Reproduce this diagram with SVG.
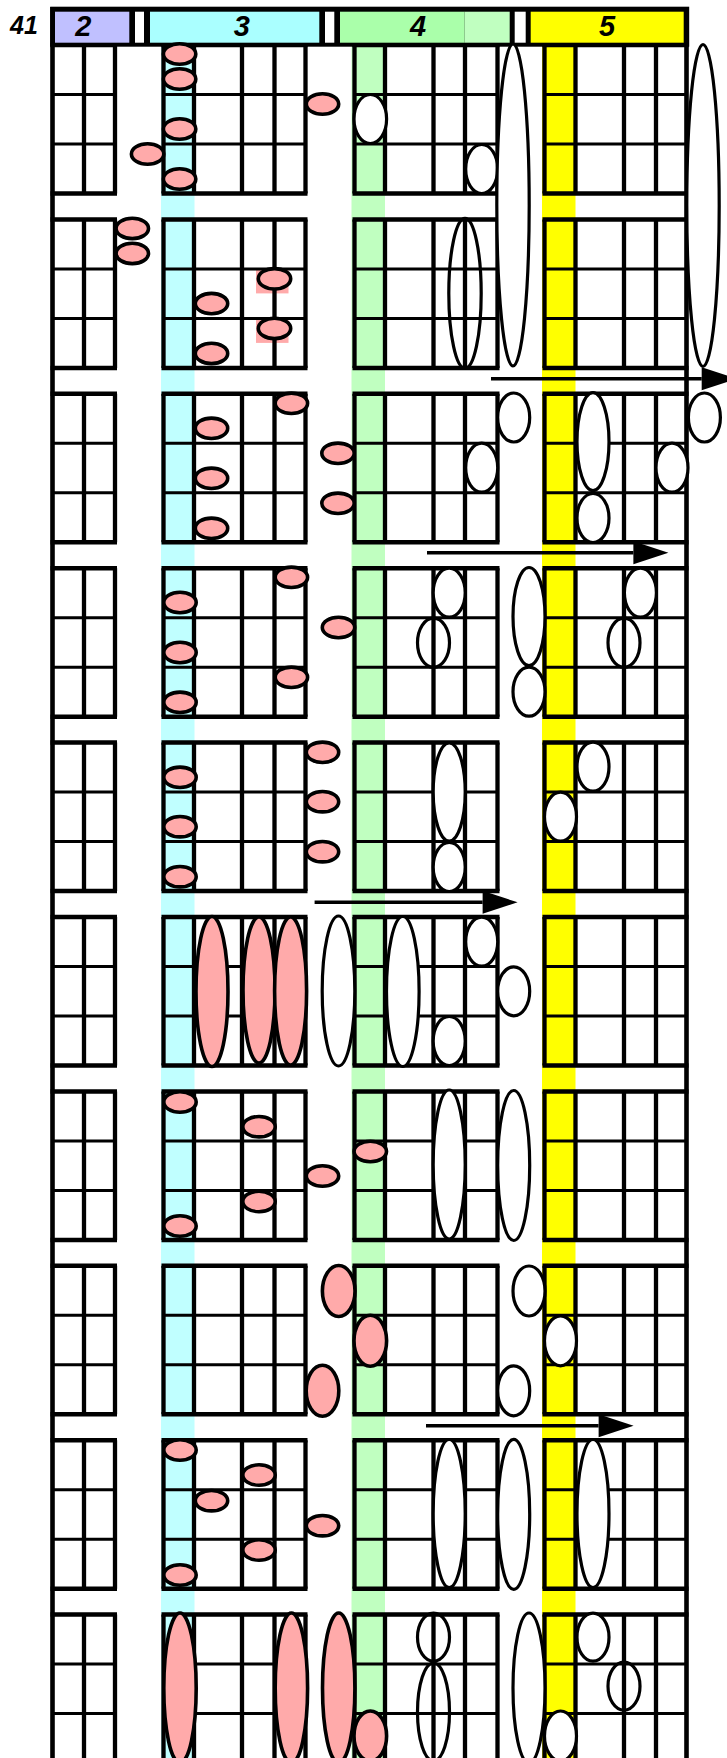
<svg xmlns="http://www.w3.org/2000/svg" width="727" height="1758" viewBox="0 0 727 1758">
<style>
.lbl{font-family:"Liberation Sans",Arial,sans-serif;font-weight:bold;font-style:italic;fill:#000}
.hk{stroke:#000;stroke-width:4.5;fill:none}
.hn{stroke:#000;stroke-width:3;fill:none}
.v{stroke:#000;stroke-width:4.3;fill:none}
.p{fill:#ffaaaa;stroke:#000;stroke-width:3.6}
.w{fill:#fff;stroke:#000;stroke-width:3.2}
.g{fill:none;stroke:#000;stroke-width:3.2}
.arr{stroke:#000;stroke-width:3.6;fill:none;marker-end:url(#ah)}
</style>
<defs>
<g id="grid">
<path class="hk" d="M50.5 0H117M161.5 0H307.5M352.5 0H499.5M542.5 0H688.5M50.5 148.5H117M161.5 148.5H307.5M352.5 148.5H499.5M542.5 148.5H688.5"/>
<path class="hn" d="M52.5 49.5H115M163.5 49.5H305.5M354.5 49.5H497.5M544.5 49.5H686.5M52.5 99H115M163.5 99H305.5M354.5 99H497.5M544.5 99H686.5"/>
<path class="v" d="M84 0V148.5M115 0V148.5M163.5 0V148.5M194 0V148.5M242 0V148.5M274.5 0V148.5M305.5 0V148.5M354.5 0V148.5M385 0V148.5M433.5 0V148.5M465 0V148.5M497.5 0V148.5M544.5 0V148.5M575.5 0V148.5M624 0V148.5M656 0V148.5"/>
</g>
<marker id="ah" markerUnits="userSpaceOnUse" markerWidth="36" markerHeight="24" refX="0" refY="11.5" orient="auto" overflow="visible">
<path d="M0 0L35 11.5L0 23Z" fill="#000"/>
</marker>
</defs>
<rect x="0" y="0" width="727" height="1758" fill="#fff"/>
<g id="stripes">
<rect x="161" y="46" width="33.5" height="1712" fill="#c0ffff"/>
<rect x="351.5" y="46" width="33.5" height="1712" fill="#c0ffc0"/>
<rect x="542" y="46" width="33.5" height="1712" fill="#ffff00"/>
<rect x="256" y="268.9" width="32.5" height="24.5" fill="#ffaaaa"/>
<rect x="256" y="318.4" width="32.5" height="24.5" fill="#ffaaaa"/>
</g>
<g id="grids">
<use href="#grid" y="45"/>
<use href="#grid" y="219.4"/>
<use href="#grid" y="393.8"/>
<use href="#grid" y="568.2"/>
<use href="#grid" y="742.6"/>
<use href="#grid" y="917"/>
<use href="#grid" y="1091.4"/>
<use href="#grid" y="1265.8"/>
<use href="#grid" y="1440.2"/>
<use href="#grid" y="1614.6"/>
<path class="v" style="stroke-width:4.6" d="M52.5 7V1758M686.5 7V1758"/>
</g>
<g id="header">
<rect x="50.2" y="6.7" width="639" height="40" fill="#000"/>
<rect x="55" y="11.7" width="74.3" height="31" fill="#c0c0ff"/>
<rect x="135" y="11.7" width="9" height="31" fill="#fff"/>
<rect x="150" y="11.7" width="169.3" height="31" fill="#aaffff"/>
<rect x="325" y="11.7" width="9.3" height="31" fill="#fff"/>
<rect x="340" y="11.7" width="124.7" height="31" fill="#aaffaa"/>
<rect x="464.7" y="11.7" width="45" height="31" fill="#c0ffc0"/>
<rect x="514.7" y="11.7" width="11" height="31" fill="#fff"/>
<rect x="530.7" y="11.7" width="153" height="31" fill="#ffff00"/>
<text class="lbl" x="83.3" y="36" font-size="29" text-anchor="middle">2</text>
<text class="lbl" x="241.7" y="36" font-size="29" text-anchor="middle">3</text>
<text class="lbl" x="418" y="36" font-size="29" text-anchor="middle">4</text>
<text class="lbl" x="607" y="36" font-size="29" text-anchor="middle">5</text>
</g>
<text id="num" class="lbl" x="10" y="34" font-size="25">41</text>
<g id="band1">
<ellipse class="p" cx="179.6" cy="54" rx="16.2" ry="10.2"/>
<ellipse class="p" cx="179.6" cy="79" rx="16.2" ry="10.2"/>
<ellipse class="p" cx="322.5" cy="104" rx="16.2" ry="10.2"/>
<ellipse class="p" cx="179.6" cy="129" rx="16.2" ry="10.2"/>
<ellipse class="p" cx="147.6" cy="154" rx="16.2" ry="10.2"/>
<ellipse class="p" cx="179.6" cy="179" rx="16.2" ry="10.2"/>
<ellipse class="w" cx="370.3" cy="119" rx="16.3" ry="24.5"/>
<ellipse class="w" cx="481.7" cy="169" rx="16" ry="24.5"/>
<ellipse class="w" cx="513" cy="205" rx="16.2" ry="161"/>
<ellipse class="w" cx="703" cy="205.5" rx="16.2" ry="161"/>
</g>
<g id="band2">
<ellipse class="p" cx="132.3" cy="228.4" rx="16.2" ry="10.2"/>
<ellipse class="p" cx="132.3" cy="253.4" rx="16.2" ry="10.2"/>
<ellipse class="p" cx="274.5" cy="278.8" rx="16.2" ry="10.2"/>
<ellipse class="p" cx="211.5" cy="303.6" rx="16.2" ry="10.2"/>
<ellipse class="p" cx="274.5" cy="328.4" rx="16.2" ry="10.2"/>
<ellipse class="p" cx="211.5" cy="353.4" rx="16.2" ry="10.2"/>
<ellipse class="g" cx="465" cy="293.4" rx="16.2" ry="75"/>
</g>
<g id="band3">
<ellipse class="p" cx="291.4" cy="403.3" rx="16.2" ry="10.2"/>
<ellipse class="p" cx="211.5" cy="428.3" rx="16.2" ry="10.2"/>
<ellipse class="p" cx="338" cy="453.3" rx="16.2" ry="10.2"/>
<ellipse class="p" cx="211.5" cy="478.3" rx="16.2" ry="10.2"/>
<ellipse class="p" cx="338" cy="503.3" rx="16.2" ry="10.2"/>
<ellipse class="p" cx="211.5" cy="528.3" rx="16.2" ry="10.2"/>
<ellipse class="w" cx="513.7" cy="417.5" rx="16" ry="24.5"/>
<ellipse class="w" cx="481.7" cy="467.7" rx="16" ry="24.5"/>
<ellipse class="w" cx="593" cy="441.7" rx="16" ry="49"/>
<ellipse class="w" cx="593" cy="518" rx="16" ry="24.5"/>
<ellipse class="w" cx="704.4" cy="417.5" rx="16" ry="24.5"/>
<ellipse class="w" cx="672" cy="467.7" rx="16" ry="24.5"/>
</g>
<g id="band4">
<ellipse class="p" cx="291.4" cy="577.3" rx="16.2" ry="10.2"/>
<ellipse class="p" cx="180" cy="602.5" rx="16.2" ry="10.2"/>
<ellipse class="p" cx="338.5" cy="627.5" rx="16.2" ry="10.2"/>
<ellipse class="p" cx="180" cy="652.5" rx="16.2" ry="10.2"/>
<ellipse class="p" cx="291.4" cy="677.3" rx="16.2" ry="10.2"/>
<ellipse class="p" cx="180" cy="702.3" rx="16.2" ry="10.2"/>
<ellipse class="w" cx="449.2" cy="592.7" rx="16" ry="24.5"/>
<ellipse class="g" cx="433.5" cy="642.7" rx="16" ry="24.5"/>
<ellipse class="w" cx="529" cy="616.5" rx="16" ry="49"/>
<ellipse class="w" cx="529" cy="691.7" rx="16" ry="24.5"/>
<ellipse class="w" cx="640.4" cy="592.7" rx="16" ry="24.5"/>
<ellipse class="g" cx="624" cy="642.7" rx="16" ry="24.5"/>
</g>
<g id="band5">
<ellipse class="p" cx="322.5" cy="752.3" rx="16.2" ry="10.2"/>
<ellipse class="p" cx="180" cy="777.3" rx="16.2" ry="10.2"/>
<ellipse class="p" cx="322.5" cy="801.7" rx="16.2" ry="10.2"/>
<ellipse class="p" cx="180" cy="826.7" rx="16.2" ry="10.2"/>
<ellipse class="p" cx="322.5" cy="851.7" rx="16.2" ry="10.2"/>
<ellipse class="p" cx="180" cy="876.7" rx="16.2" ry="10.2"/>
<ellipse class="w" cx="449.2" cy="792" rx="16" ry="49"/>
<ellipse class="w" cx="449.2" cy="867" rx="16" ry="24.5"/>
<ellipse class="w" cx="593" cy="766.7" rx="16" ry="24.5"/>
<ellipse class="w" cx="560.5" cy="816.7" rx="16" ry="24.5"/>
</g>
<g id="band6">
<ellipse class="p" cx="212" cy="991.5" rx="16" ry="75"/>
<ellipse class="p" cx="259" cy="990" rx="16" ry="73"/>
<ellipse class="p" cx="290.6" cy="991" rx="16" ry="74"/>
<ellipse class="w" cx="338.5" cy="991" rx="16.3" ry="75"/>
<ellipse class="w" cx="402.8" cy="991.5" rx="16.3" ry="75"/>
<ellipse class="w" cx="481.7" cy="941.7" rx="16" ry="24.5"/>
<ellipse class="w" cx="513.7" cy="991.3" rx="16" ry="24.5"/>
<ellipse class="w" cx="449.2" cy="1041" rx="16" ry="24.5"/>
</g>
<g id="band7">
<ellipse class="p" cx="180" cy="1102" rx="16.2" ry="10.2"/>
<ellipse class="p" cx="259" cy="1126.7" rx="16.2" ry="10.2"/>
<ellipse class="p" cx="370.3" cy="1151.5" rx="16.2" ry="10.2"/>
<ellipse class="p" cx="322.5" cy="1176" rx="16.2" ry="10.2"/>
<ellipse class="p" cx="259" cy="1201.5" rx="16.2" ry="10.2"/>
<ellipse class="p" cx="180" cy="1226" rx="16.2" ry="10.2"/>
<ellipse class="w" cx="449.2" cy="1164.5" rx="16" ry="74.5"/>
<ellipse class="w" cx="513.7" cy="1165.5" rx="16" ry="75"/>
</g>
<g id="band8">
<ellipse class="p" cx="338.7" cy="1291" rx="16.3" ry="25.5"/>
<ellipse class="p" cx="370.3" cy="1340.8" rx="16.3" ry="25.5"/>
<ellipse class="p" cx="322.5" cy="1390.8" rx="16.3" ry="25.5"/>
<ellipse class="w" cx="529" cy="1291" rx="16" ry="25"/>
<ellipse class="w" cx="560.5" cy="1340.8" rx="16" ry="25"/>
<ellipse class="w" cx="513.7" cy="1390.8" rx="16" ry="25"/>
</g>
<g id="band9">
<ellipse class="p" cx="180" cy="1450" rx="16.2" ry="10.2"/>
<ellipse class="p" cx="259" cy="1475" rx="16.2" ry="10.2"/>
<ellipse class="p" cx="211.5" cy="1500.7" rx="16.2" ry="10.2"/>
<ellipse class="p" cx="322.5" cy="1525.7" rx="16.2" ry="10.2"/>
<ellipse class="p" cx="259" cy="1550" rx="16.2" ry="10.2"/>
<ellipse class="p" cx="180" cy="1575" rx="16.2" ry="10.2"/>
<ellipse class="w" cx="449.2" cy="1513.5" rx="16" ry="74"/>
<ellipse class="w" cx="513.7" cy="1514.3" rx="16" ry="75"/>
<ellipse class="w" cx="593" cy="1513.5" rx="16" ry="74"/>
</g>
<g id="band10">
<ellipse class="p" cx="180" cy="1688" rx="16.2" ry="75"/>
<ellipse class="p" cx="291.4" cy="1688" rx="16.2" ry="75"/>
<ellipse class="p" cx="338.7" cy="1688" rx="16.2" ry="75"/>
<ellipse class="p" cx="370.3" cy="1736" rx="16.3" ry="25"/>
<ellipse class="g" cx="433.5" cy="1637.2" rx="16" ry="24"/>
<ellipse class="g" cx="433.5" cy="1712" rx="16" ry="49"/>
<ellipse class="w" cx="529" cy="1688" rx="16" ry="75"/>
<ellipse class="w" cx="593" cy="1637.2" rx="16" ry="24"/>
<ellipse class="g" cx="624" cy="1686.2" rx="16" ry="24"/>
<ellipse class="w" cx="560.5" cy="1736" rx="16" ry="25"/>
</g>
<g id="connectors">
<line class="arr" x1="491" y1="378.7" x2="701.7" y2="378.7"/>
<line class="arr" x1="427" y1="552.7" x2="633.4" y2="552.7"/>
<line class="arr" x1="314.6" y1="902.3" x2="482.6" y2="902.3"/>
<line class="arr" x1="426" y1="1425.7" x2="598.6" y2="1425.7"/>
</g>
</svg>
